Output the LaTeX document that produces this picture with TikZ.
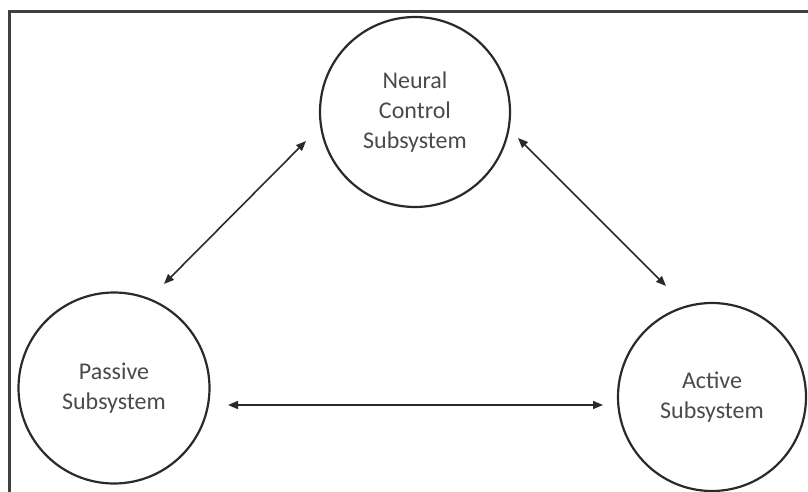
\documentclass[tikz,border=0pt]{standalone}
\usepackage{fontspec}
\setmainfont{Carlito}
\usetikzlibrary{arrows.meta}
\definecolor{framegray}{HTML}{404040}
\definecolor{txtgray}{HTML}{4A4A4A}
\definecolor{linegray}{HTML}{2A2A2A}
\tikzset{
  subsys/.style={circle, draw=linegray, line width=2.2pt, inner sep=0pt,
    align=center, text=txtgray, font=\fontsize{24}{30}\selectfont},
  link/.style={draw=linegray, line width=1.6pt,
    {Triangle[length=10pt,width=8pt]}-{Triangle[length=10pt,width=8pt]}},
  framestyle/.style={draw=framegray, line width=3pt}
}
\begin{document}
\begin{tikzpicture}[x=1pt,y=-1pt]
\useasboundingbox (0,0) rectangle (808,492);
\draw[framestyle] (9.5,495) -- (9.5,11.3) -- (812,11.3);
\node[subsys, minimum size=190pt] (neural) at (415,112) {Neural\\Control\\Subsystem};
\node[subsys, minimum size=191pt] (passive) at (114,388) {Passive\\Subsystem};
\node[subsys, minimum size=188pt] (active) at (712,397) {Active\\Subsystem};
\coordinate (nl) at (306,141);
\coordinate (pl) at (164,284);
\coordinate (nr) at (518,138);
\coordinate (ar) at (666,286);
\coordinate (ph) at (228,405);
\coordinate (ah) at (603,405);
\draw[link] (nl) -- (pl);
\draw[link] (nr) -- (ar);
\draw[link] (ph) -- (ah);
\end{tikzpicture}
\end{document}
